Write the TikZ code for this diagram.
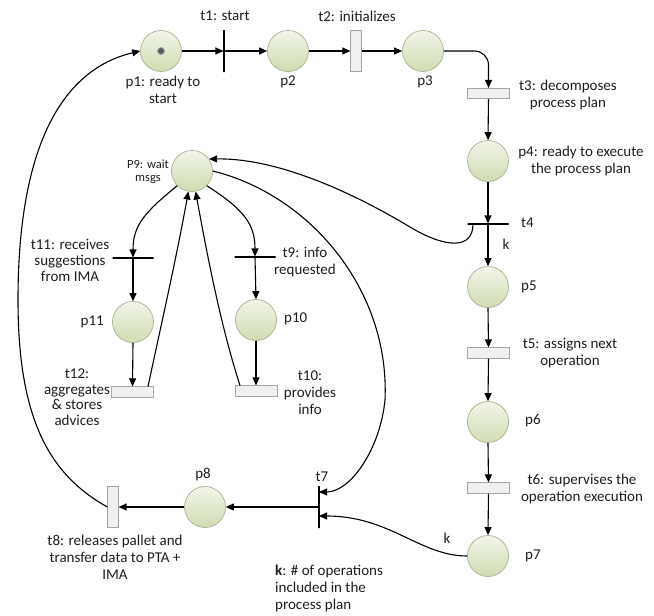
\documentclass[tikz,border=0pt]{standalone}
\usepackage{fontspec}
\setmainfont{Carlito}
\usetikzlibrary{arrows.meta}
\definecolor{plborder}{RGB}{170,178,145}
\definecolor{pltop}{RGB}{242,245,233}
\definecolor{plbot}{RGB}{208,220,178}
\definecolor{trfill}{RGB}{240,240,240}
\definecolor{trborder}{RGB}{165,165,165}
\definecolor{txt}{RGB}{30,30,30}
\begin{document}
\begin{tikzpicture}[x=1pt,y=-1pt,
  place/.style={circle,draw=plborder,line width=0.7pt,top color=pltop,bottom color=plbot,minimum size=41pt,inner sep=0pt},
  vtr/.style={rectangle,draw=trborder,fill=trfill,line width=0.7pt,minimum width=10.5pt,minimum height=41pt,inner sep=0pt},
  htr/.style={rectangle,draw=trborder,fill=trfill,line width=0.7pt,minimum width=42pt,minimum height=10.5pt,inner sep=0pt},
  vbar/.style={rectangle,draw=black,line width=1.1pt,minimum width=0pt,minimum height=42pt,inner sep=0pt},
  hbar/.style={rectangle,draw=black,line width=1.1pt,minimum width=41pt,minimum height=0pt,inner sep=0pt},
  arc/.style={draw=black,line width=1.1pt,-{Triangle[length=8pt,width=7pt]}},
  lbl/.style={font=\fontsize{15}{17}\selectfont,text=txt,align=center,inner sep=0pt},
  slbl/.style={font=\fontsize{12.5}{13.5}\selectfont,text=txt,align=center,inner sep=0pt}
]
\useasboundingbox (0,0) rectangle (654,616);
\fill[white] (0,0) rectangle (654,616);

% places
\node[place] (p1) at (161,51) {};
\node[place] (p2) at (288,51) {};
\node[place] (p3) at (423,51) {};
\node[place] (p4) at (488,161) {};
\node[place] (p5) at (488,287) {};
\node[place] (p6) at (488,422) {};
\node[place] (p7) at (488,556) {};
\node[place] (p8) at (205,507) {};
\node[place] (p9) at (192,171) {};
\node[place] (p11) at (133,322) {};
\node[place] (p10) at (256,320) {};
% token
\node[circle,fill=black!65,draw=black!35,line width=0.8pt,minimum size=7pt,inner sep=0pt] (tok) at (p1) {};

% transitions
\node[vbar] (t1) at (224,51) {};
\node[vtr] (t2) at (356,51) {};
\node[htr] (t3) at (488.5,93.5) {};
\node[hbar] (t4) at (488,224) {};
\node[htr] (t5) at (488.5,353) {};
\node[htr] (t6) at (488.5,488) {};
\node[vbar] (t7) at (319,507) {};
\node[vtr] (t8) at (113,507) {};
\node[hbar] (t11) at (133,258) {};
\node[htr] (t12) at (132.5,392) {};
\node[hbar] (t9) at (255,257) {};
\node[htr] (t10) at (256,391) {};

\coordinate (t7a) at (319,492);
\coordinate (t7b) at (319,516);
\coordinate (t4s) at (473,224);
\coordinate (t12s) at (148,386.5);
\coordinate (t10s) at (240,385.5);

% main chain
\draw[arc] (p1.east) -- (t1);
\draw[arc] (t1) -- (p2.west);
\draw[arc] (p2.east) -- (t2.west);
\draw[arc] (t2.east) -- (p3.west);
\draw[arc,rounded corners=14pt] (p3.east) -| (t3.north);
\draw[arc] (t3.south) -- (p4.north);
\draw[arc] (p4.south) -- (t4);
\draw[arc] (t4) -- (p5.north);
\draw[arc] (p5.south) -- (t5.north);
\draw[arc] (t5.south) -- (p6.north);
\draw[arc] (p6.south) -- (t6.north);
\draw[arc] (t6.south) -- (p7.north);
\draw[arc] (p7.west) .. controls (420,556) and (390,516) .. (t7b);
\draw[arc] (t7) -- (p8.east);
\draw[arc] (p8.west) -- (t8.east);
\draw[arc] (t8.west) .. controls (50,475) and (18,420) .. (18,300)
           .. controls (18,150) and (60,70) .. (p1.west);

% p9 subnet
\draw[arc] (t4s) .. controls (473,250) and (445,248) .. (410,227)
           .. controls (340,185) and (270,158) .. (p9.35);
\draw[arc] (p9.east) .. controls (310,195) and (390,290) .. (385,400)
           .. controls (380,450) and (350,492) .. (t7a);
\draw[arc] (p9.225) .. controls (145,212) and (133,225) .. (t11);
\draw[arc] (p9.-45) .. controls (245,210) and (255,225) .. (t9);
\draw[arc] (t11) -- (p11.north);
\draw[arc] (t9) -- (p10.north);
\draw[arc] (p11.south) -- (t12.north);
\draw[arc] (p10.south) -- (t10.north);
\draw[arc] (t12s) .. controls (160,330) and (176,260) .. (p9.260);
\draw[arc] (t10s) .. controls (222,330) and (208,260) .. (p9.-80);

% labels
\node[lbl] (lt1) at (225,16) {t1: start};
\node[lbl] (lt2) at (357,16) {t2: initializes};
\node[lbl] (lp1) at (163,90) {p1: ready to\\start};
\node[lbl] (lp2) at (288,82) {p2};
\node[lbl] (lp3) at (425,82) {p3};
\node[lbl] (lt3) at (568,94.5) {t3: decomposes\\process plan};
\node[lbl] (lp4) at (581,161) {p4: ready to execute\\the process plan};
\node[lbl,anchor=west] (lt4) at (521,223) {t4};
\node[lbl] (lk1) at (506,244) {k};
\node[lbl,anchor=west] (lp5) at (521,287) {p5};
\node[lbl] (lt5) at (570,353) {t5: assigns next\\operation};
\node[lbl,anchor=west] (lp6) at (525,421) {p6};
\node[lbl] (lt6) at (582,488.5) {t6: supervises the\\operation execution};
\node[lbl,anchor=west] (lp7) at (525,556) {p7};
\node[lbl] (lk2) at (447,538) {k};
\node[lbl] (lt7) at (322,477) {t7};
\node[lbl] (lp8) at (203,475) {p8};
\node[lbl] (lt8) at (115,557) {t8: releases pallet and\\transfer data to PTA +\\IMA};
\node[lbl,align=left,anchor=west] (lk) at (275,588) {\textbf{k}: \# of operations\\included in the\\process plan};
\node[slbl] (lp9) at (148,172) {P9: wait\\msgs};
\node[lbl,font=\fontsize{15}{16}\selectfont] (lt11) at (70,260) {t11: receives\\suggestions\\from IMA};
\node[lbl,anchor=east] (lp11) at (104,322) {p11};
\node[lbl,font=\fontsize{15}{15.5}\selectfont] (lt12) at (77,397) {t12:\\aggregates\\\& stores\\advices};
\node[lbl] (lt9) at (305,262) {t9: info\\requested};
\node[lbl,anchor=west] (lp10) at (284,319) {p10};
\node[lbl] (lt10) at (310,392.5) {t10:\\provides\\info};
\end{tikzpicture}
\end{document}
